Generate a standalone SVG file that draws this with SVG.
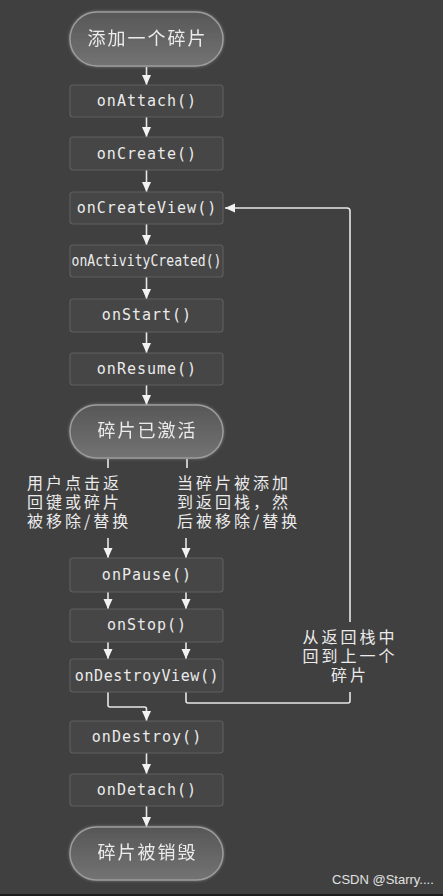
<svg xmlns="http://www.w3.org/2000/svg" width="443" height="896" viewBox="0 0 443 896">
<style>
.box{fill:#464646;stroke:#5e5e5e;stroke-width:1.2}
.pill{fill:url(#pg);stroke:#9c9c9c;stroke-width:1.5}
.mono{font-family:"DejaVu Sans Mono",monospace;font-size:15px;fill:#ebebeb;letter-spacing:1px;text-anchor:middle}
.cjk{font-family:"Noto Sans CJK SC",sans-serif;font-size:16px;fill:#ebebeb;letter-spacing:3px}
.pt{text-anchor:middle;font-size:18px;letter-spacing:2px}
.ln{fill:none;stroke:#e6e6e6;stroke-width:1.6}
</style>
<defs>
<linearGradient id="pg" x1="0" y1="0" x2="0" y2="1">
<stop offset="0" stop-color="#575757"/>
<stop offset="1" stop-color="#737373"/>
</linearGradient>
<filter id="glow" x="-10%" y="-20%" width="120%" height="140%">
<feGaussianBlur in="SourceAlpha" stdDeviation="1.5" result="b"/>
<feFlood flood-color="#bbbbbb" flood-opacity="0.5"/>
<feComposite in2="b" operator="in" result="g"/>
<feMerge><feMergeNode in="g"/><feMergeNode in="SourceGraphic"/></feMerge>
</filter>
<marker id="ah" markerUnits="userSpaceOnUse" markerWidth="10" markerHeight="10" viewBox="0 0 10 10" refX="10" refY="5" orient="auto">
<path d="M0,0.5 L10,5 L0,9.5 z" fill="#f2f2f2"/>
</marker>
</defs>
<rect x="0" y="0" width="443" height="896" fill="#404040"/>
<rect x="0" y="894" width="443" height="2" fill="#1e1e1e"/>

<g id="connectors">
<line class="ln" x1="146.5" y1="67" x2="146.5" y2="85" marker-end="url(#ah)"/>
<line class="ln" x1="146.5" y1="117" x2="146.5" y2="137" marker-end="url(#ah)"/>
<line class="ln" x1="146.5" y1="170" x2="146.5" y2="192" marker-end="url(#ah)"/>
<line class="ln" x1="146.5" y1="224" x2="146.5" y2="245" marker-end="url(#ah)"/>
<line class="ln" x1="146.5" y1="277" x2="146.5" y2="299" marker-end="url(#ah)"/>
<line class="ln" x1="146.5" y1="332" x2="146.5" y2="353" marker-end="url(#ah)"/>
<line class="ln" x1="146.5" y1="385" x2="146.5" y2="405" marker-end="url(#ah)"/>
<line class="ln" x1="108" y1="459" x2="108" y2="468"/>
<line class="ln" x1="187" y1="459" x2="187" y2="468"/>
<line class="ln" x1="108" y1="538" x2="108" y2="558" marker-end="url(#ah)"/>
<line class="ln" x1="186" y1="538" x2="186" y2="558" marker-end="url(#ah)"/>
<line class="ln" x1="108" y1="592" x2="108" y2="609" marker-end="url(#ah)"/>
<line class="ln" x1="186" y1="592" x2="186" y2="609" marker-end="url(#ah)"/>
<line class="ln" x1="108" y1="642" x2="108" y2="659" marker-end="url(#ah)"/>
<line class="ln" x1="186" y1="642" x2="186" y2="659" marker-end="url(#ah)"/>
<path class="ln" d="M108,692 V705 Q108,707 110,707 H144.5 Q146.5,707 146.5,709 V721" marker-end="url(#ah)"/>
<path class="ln" d="M186,692 V701 Q186,703 188,703 H348 Q350,703 350,701 V692"/>
<path class="ln" d="M350,622 V211 Q350,208 347,208 H225" marker-end="url(#ah)"/>
<line class="ln" x1="146.5" y1="753" x2="146.5" y2="774" marker-end="url(#ah)"/>
<line class="ln" x1="146.5" y1="806" x2="146.5" y2="827" marker-end="url(#ah)"/>
</g>

<g id="start" filter="url(#glow)">
<rect class="pill" x="70" y="12" width="153" height="54" rx="27"/>
<text class="cjk pt" x="147.5" y="45">添加一个碎片</text>
</g>
<g id="onAttach"><rect class="box" x="70" y="85" width="153" height="32" rx="3"/><text class="mono" x="147" y="106">onAttach()</text></g>
<g id="onCreate"><rect class="box" x="70" y="137" width="153" height="33" rx="3"/><text class="mono" x="147" y="159">onCreate()</text></g>
<g id="onCreateView"><rect class="box" x="70" y="192" width="153" height="32" rx="3"/><text class="mono" x="147" y="213">onCreateView()</text></g>
<g id="onActivityCreated"><rect class="box" x="70" y="245" width="153" height="32" rx="3"/><text class="mono" x="146.5" y="266" textLength="150" lengthAdjust="spacingAndGlyphs" style="letter-spacing:0">onActivityCreated()</text></g>
<g id="onStart"><rect class="box" x="70" y="299" width="153" height="33" rx="3"/><text class="mono" x="147" y="320">onStart()</text></g>
<g id="onResume"><rect class="box" x="70" y="353" width="153" height="32" rx="3"/><text class="mono" x="147" y="374">onResume()</text></g>
<g id="active" filter="url(#glow)">
<rect class="pill" x="70" y="405" width="153" height="53" rx="26.5"/>
<text class="cjk pt" x="147.5" y="437">碎片已激活</text>
</g>
<g id="label-left">
<text class="cjk" x="27" y="489">用户点击返</text>
<text class="cjk" x="27" y="508">回键或碎片</text>
<text class="cjk" x="27" y="527">被移除/替换</text>
</g>
<g id="label-right">
<text class="cjk" x="177" y="489">当碎片被添加</text>
<text class="cjk" x="177" y="508">到返回栈，然</text>
<text class="cjk" x="177" y="527">后被移除/替换</text>
</g>
<g id="onPause"><rect class="box" x="70" y="558" width="153" height="34" rx="3"/><text class="mono" x="147" y="580">onPause()</text></g>
<g id="onStop"><rect class="box" x="70" y="609" width="153" height="33" rx="3"/><text class="mono" x="147" y="630">onStop()</text></g>
<g id="onDestroyView"><rect class="box" x="70" y="659" width="153" height="33" rx="3"/><text class="mono" x="147" y="681" style="letter-spacing:0.6px">onDestroyView()</text></g>
<g id="label-back">
<text class="cjk" x="350" y="643" text-anchor="middle">从返回栈中</text>
<text class="cjk" x="350" y="662" text-anchor="middle">回到上一个</text>
<text class="cjk" x="350" y="681" text-anchor="middle">碎片</text>
</g>
<g id="onDestroy"><rect class="box" x="70" y="721" width="153" height="32" rx="3"/><text class="mono" x="147" y="742">onDestroy()</text></g>
<g id="onDetach"><rect class="box" x="70" y="774" width="153" height="32" rx="3"/><text class="mono" x="147" y="795">onDetach()</text></g>
<g id="end" filter="url(#glow)">
<rect class="pill" x="70" y="827" width="153" height="53" rx="26.5"/>
<text class="cjk pt" x="147.5" y="859">碎片被销毁</text>
</g>
<text x="332" y="884" style="font-family:'Liberation Sans',Arial,sans-serif;font-size:13px;fill:#e0e0e0">CSDN @Starry....</text>
</svg>
